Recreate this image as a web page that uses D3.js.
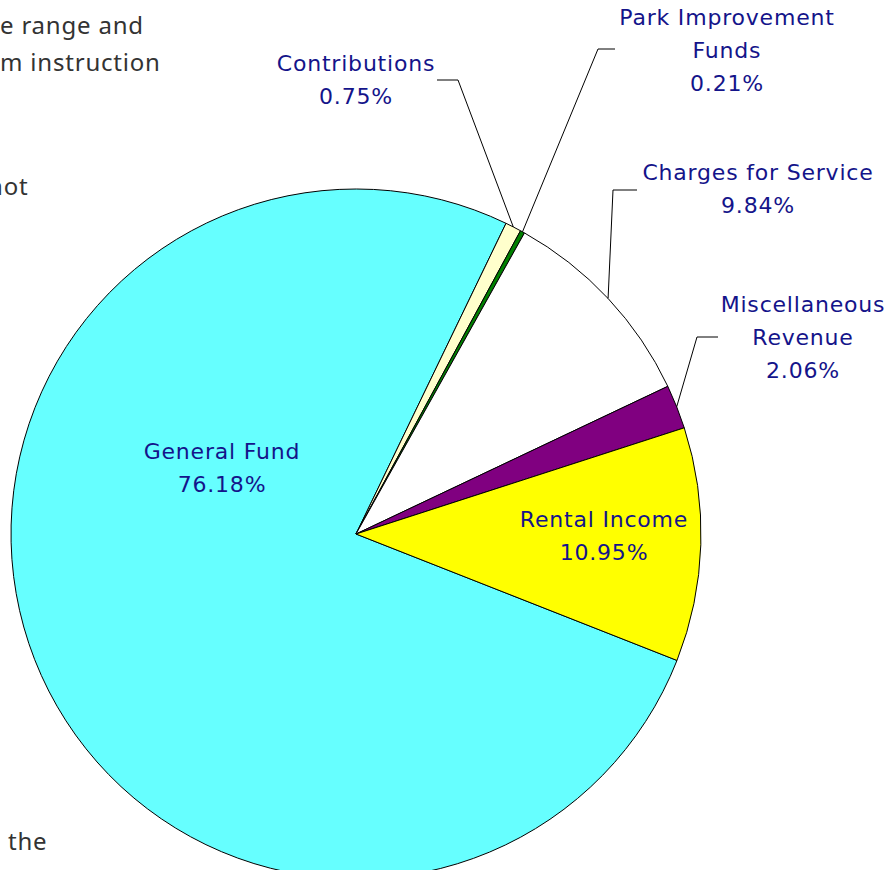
<!DOCTYPE html>
<html>
<head>
<meta charset="utf-8">
<script src="https://cdn.jsdelivr.net/npm/d3@7"></script>
<style>
  body { margin: 0; background: #fff; }
  .bg { font-family: "Noto Sans", sans-serif; font-size: 24px; letter-spacing: 0.8px; fill: #333; }
  .lbl { font-family: "DejaVu Sans", sans-serif; font-size: 22px; letter-spacing: 0.8px; fill: #14148a; }
</style>
</head>
<body>
<div class="vis"></div>
<script>
// slice data, in drawing order (clockwise)
const categories = ["General Fund", "Contributions", "Park Improvement Funds", "Charges for Service", "Miscellaneous Revenue", "Rental Income"];
const values = [76.18, 0.75, 0.21, 9.84, 2.06, 10.95];
const labelLines = [["General Fund"], ["Contributions"], ["Park Improvement", "Funds"], ["Charges for Service"], ["Miscellaneous", "Revenue"], ["Rental Income"]];
const colours = ["#66ffff", "#ffffcc", "#008000", "#ffffff", "#800080", "#ffff00"];

(function () {
    const svgWidth = 895;
    const svgHeight = 870;
    const cx = 356, cy = 534, radius = 345;
    const start = 111.5 * Math.PI / 180;

    const svg = d3.select('.vis')
        .append('svg')
            .attr('width', svgWidth)
            .attr('height', svgHeight);

    // clipped document text behind the chart
    const bgText = [
        { t: "e range and", x: 0, y: 34 },
        { t: "m instruction", x: 0, y: 71 },
        { t: "not", x: -12, y: 195 },
        { t: "the", x: 8, y: 850 }
    ];
    svg.selectAll('.bg')
        .data(bgText)
        .enter().append('text')
            .attr('class', 'bg')
            .attr('x', d => d.x)
            .attr('y', d => d.y)
            .text(d => d.t);

    const data = categories.map((c, i) => ({ name: c, value: values[i], lines: labelLines[i], colour: colours[i] }));

    const pie = d3.pie()
        .sort(null)
        .value(d => d.value)
        .startAngle(start)
        .endAngle(start + 2 * Math.PI);

    const arc = d3.arc().innerRadius(0).outerRadius(radius);

    const graph = svg.append('g')
        .attr('transform', `translate(${cx}, ${cy})`);

    const arcs = pie(data);

    graph.selectAll('path')
        .data(arcs)
        .enter().append('path')
            .attr('d', arc)
            .attr('fill', d => d.data.colour)
            .attr('stroke', '#000')
            .attr('stroke-width', 1);

    // label placement (absolute page coords) and leader elbows
    const labelPos = {
        "General Fund": { x: 222, y: 453, inside: true },
        "Contributions": { x: 356, y: 65, elbow: [[437, 80], [458, 80]] },
        "Park Improvement Funds": { x: 727, y: 19, elbow: [[615, 49], [598, 49]] },
        "Charges for Service": { x: 758, y: 174, elbow: [[637, 190], [613, 190]] },
        "Miscellaneous Revenue": { x: 803, y: 306, elbow: [[718, 337], [697, 337]] },
        "Rental Income": { x: 604, y: 521, inside: true }
    };
    const lineH = 33;

    arcs.forEach(function (d) {
        const p = labelPos[d.data.name];
        const mid = (d.startAngle + d.endAngle) / 2;
        if (p.elbow) {
            const ex = cx + radius * Math.sin(mid);
            const ey = cy - radius * Math.cos(mid);
            svg.append('polyline')
                .attr('points', p.elbow.map(q => q.join(',')).join(' ') + ` ${ex},${ey}`)
                .attr('fill', 'none')
                .attr('stroke', '#000')
                .attr('stroke-width', 1);
        }
        const lines = d.data.lines.concat([d3.format('.2f')(d.data.value) + '%']);
        const t = svg.append('text')
            .attr('class', 'lbl')
            .attr('text-anchor', 'middle')
            .attr('dominant-baseline', 'middle');
        lines.forEach(function (s, i) {
            t.append('tspan')
                .attr('x', p.x)
                .attr('y', p.y + i * lineH)
                .text(s);
        });
    });
})();
</script>
</body>
</html>
